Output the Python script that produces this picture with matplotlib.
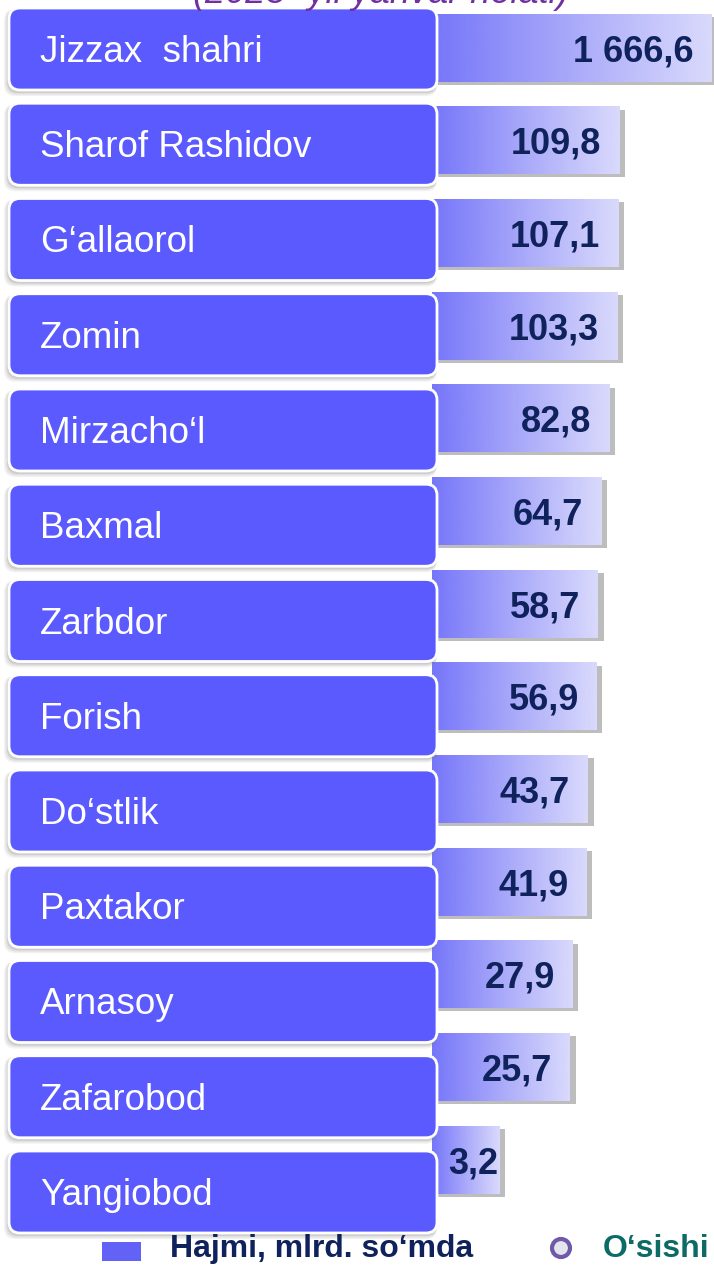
import matplotlib
matplotlib.use("Agg")
import matplotlib.pyplot as plt
import numpy as np
from matplotlib.patches import FancyBboxPatch, Rectangle, Circle
from matplotlib.image import BboxImage
from matplotlib.transforms import TransformedBbox
from matplotlib.colors import LinearSegmentedColormap
import matplotlib.patheffects as pe

# ---------------- data ----------------
districts = ["Jizzax  shahri", "Sharof Rashidov", "G\u2018allaorol", "Zomin",
             "Mirzacho\u2018l", "Baxmal", "Zarbdor", "Forish", "Do\u2018stlik",
             "Paxtakor", "Arnasoy", "Zafarobod", "Yangiobod"]
values = [1666.6, 109.8, 107.1, 103.3, 82.8, 64.7, 58.7, 56.9, 43.7, 41.9,
          27.9, 25.7, 3.2]
value_labels = ["1 666,6", "109,8", "107,1", "103,3", "82,8", "64,7", "58,7",
                "56,9", "43,7", "41,9", "27,9", "25,7", "3,2"]
title_text = "(2023 -yil yanvar holati)"
legend_labels = ["Hajmi, mlrd. so\u2018mda", "O\u2018sishi"]

# ---------------- styling ----------------
W, H = 714, 1265
DPI = 100
FONT = "Liberation Sans"
BOX_COLOR = "#5A5AFF"
NAVY = "#10225C"
TEAL = "#0C6B64"
PURPLE = "#7030A0"
GRAD_L = "#7676FA"
GRAD_R = "#DADAFD"

fig = plt.figure(figsize=(W / DPI, H / DPI), dpi=DPI)
fig.patch.set_facecolor("white")

# bar axes (log scale)
ax = fig.add_axes([432 / W, 0, (W - 432) / W, 1])
ax.set_xscale("log")
xmin, xmax = 10 ** (-0.359), 10 ** 3.256
ax.set_xlim(xmin, xmax)
n = len(values)
ax.set_ylim(13.133, -0.518)
ax.axis("off")
ax.patch.set_alpha(0)

ypos = np.arange(n)
widths = [v - xmin for v in values]
bars = ax.barh(ypos, widths, left=xmin, height=0.73, color=GRAD_L,
               edgecolor="none", zorder=2)

cmap = LinearSegmentedColormap.from_list("g", [GRAD_L, "#AAAAFA", GRAD_R])
grad = np.linspace(0, 1, 256).reshape(1, -1)
for b in bars:
    b.set_path_effects([pe.SimplePatchShadow(offset=(4, -2), shadow_rgbFace="#888888", alpha=0.55),
                        pe.Normal()])
    tb = TransformedBbox(b.get_bbox(), ax.transData)
    bi = BboxImage(tb, cmap=cmap, interpolation="bicubic", zorder=3)
    bi.set_data(grad)
    bi.set_clim(0, 1)
    ax.add_artist(bi)

# value labels
texts = []
for i, (v, lab) in enumerate(zip(values, value_labels)):
    t = ax.annotate(lab, xy=(v, i), xytext=(-13, -9.4), textcoords="offset points",
                    ha="right", va="baseline", fontsize=26, fontweight="bold",
                    color=NAVY, family=FONT, zorder=5)
    texts.append(t)

# overlay axes in pixel coordinates
ov = fig.add_axes([0, 0, 1, 1], zorder=2)
ov.set_xlim(0, W)
ov.set_ylim(H, 0)
ov.axis("off")
ov.patch.set_alpha(0)

box_x0, box_x1, box_h = 9, 437, 82
for i, name in enumerate(districts):
    cy = 49 + i * 95.25
    # shadow
    for k, a in [(5, 0.10), (3.5, 0.15), (2, 0.2)]:
        sh = FancyBboxPatch((box_x0 - k, cy - box_h / 2 + 1), box_x1 - box_x0 + k,
                            box_h + k, boxstyle="round,pad=0,rounding_size=11",
                            facecolor="#808080", edgecolor="none", alpha=a, zorder=1)
        ov.add_patch(sh)
    bx = FancyBboxPatch((box_x0, cy - box_h / 2), box_x1 - box_x0, box_h,
                        boxstyle="round,pad=0,rounding_size=11",
                        facecolor=BOX_COLOR, edgecolor="white", linewidth=2, zorder=2)
    ov.add_patch(bx)
    ov.text(40, cy + 13, name, ha="left", va="baseline", fontsize=26.5,
            color="white", family=FONT, zorder=3)

# title (partially cut off at top, as in the reference)
ov.text(381, 3, title_text, ha="center", va="baseline", fontsize=26,
        style="italic", color=PURPLE, family=FONT)

# legend
ov.add_patch(Rectangle((102, 1242), 39, 19, facecolor="#6262F6", edgecolor="none"))
ov.text(170, 1257, legend_labels[0], ha="left", va="baseline", fontsize=23,
        fontweight="bold", color=NAVY, family=FONT)
ov.add_patch(Circle((561, 1248), 9, facecolor="#E4E4EC", edgecolor="#6E5AA8", linewidth=3))
ov.text(603, 1257, legend_labels[1], ha="left", va="baseline", fontsize=23,
        fontweight="bold", color=TEAL, family=FONT)

# keep short-bar labels clear of the label boxes
fig.canvas.draw()
r = fig.canvas.get_renderer()
min_left = 448
for t in texts:
    bb = t.get_window_extent(r)
    if bb.x0 < min_left:
        shift_pts = (min_left - bb.x0) * 72 / DPI
        x, y = t.get_position()
        t.set_position((x + shift_pts, y))

fig.savefig("out.png", dpi=DPI)
